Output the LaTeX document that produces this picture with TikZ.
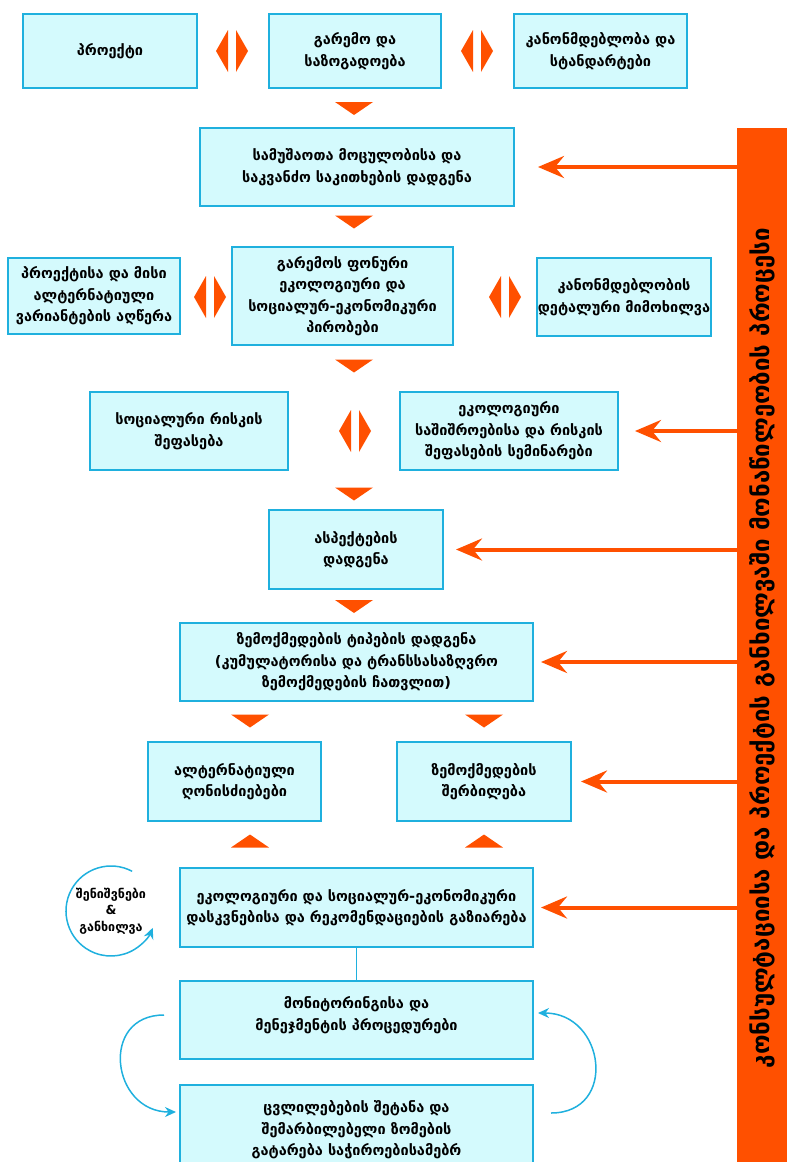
\documentclass[tikz,border=0pt]{standalone}
\usepackage{fontspec}
\setmainfont{DejaVu Sans}
\usetikzlibrary{arrows.meta,calc}

\definecolor{naranja}{HTML}{FF5000}
\definecolor{celeste}{HTML}{D4FAFD}
\definecolor{borde}{HTML}{1FB0DE}

\tikzset{
  caja/.style={draw=borde, fill=celeste, line width=2pt, align=center,
    inner sep=0pt, font=\fontsize{14.5}{21.5}\selectfont\bfseries},
  flecha/.style={draw=naranja, line width=4pt,
    -{Stealth[length=26pt,width=22pt,inset=9pt]}},
  bucle/.style={draw=borde, line width=1.5pt,
    -{Stealth[length=11pt,width=10pt]}},
  tribajo/.pic={\fill[naranja] (-19,-6.5) -- (19,-6.5) -- (0,6.5) -- cycle;},
  triarriba/.pic={\fill[naranja] (-19,6.5) -- (19,6.5) -- (0,-6.5) -- cycle;},
  rombo/.pic={\fill[naranja] (-4,-21) -- (-4,21) -- (-16,0) -- cycle;
    \fill[naranja] (4,-21) -- (4,21) -- (16,0) -- cycle;}
}

\begin{document}
\begin{tikzpicture}[x=1pt,y=-1pt]

% Marco
\clip (0,0) rectangle (787,1162);

% Primera fila
\node[caja, minimum width=174pt, minimum height=74pt] (proyecto) at (110,51) {პროექტი};
\node[caja, minimum width=172pt, minimum height=74pt] (entorno) at (355,51) {გარემო და\\საზოგადოება};
\node[caja, minimum width=173pt, minimum height=74pt] (normas) at (600.5,51) {კანონმდებლობა და\\სტანდარტები};
\pic at (232,51) {rombo};
\pic at (477,51) {rombo};
\pic at (354,108.5) {tribajo};

% Alcance
\node[caja, minimum width=314pt, minimum height=78pt] (alcance) at (357,167) {სამუშაოთა მოცულობისა და\\საკვანძო საკითხების დადგენა};
\pic at (354,222) {tribajo};

% Tercera fila
\node[caja, minimum width=172pt, minimum height=76pt] (descripcion) at (94,296) {პროექტისა და მისი\\ალტერნატიული\\ვარიანტების აღწერა};
\node[caja, minimum width=221pt, minimum height=98pt] (fondo) at (342.5,296) {გარემოს ფონური\\ეკოლოგიური და\\სოციალურ-ეკონომიკური\\პირობები};
\node[caja, minimum width=174pt, minimum height=78pt] (legislacion) at (624,297) {კანონმდებლობის\\დეტალური მიმოხილვა};
\pic at (210,297) {rombo};
\pic at (505,297) {rombo};
\pic at (354,366) {tribajo};

% Riesgos
\node[caja, minimum width=198pt, minimum height=78pt] (social) at (189,431) {სოციალური რისკის\\შეფასება};
\node[caja, minimum width=218pt, minimum height=78pt] (seminarios) at (509,431) {ეკოლოგიური\\საშიშროებისა და რისკის\\შეფასების სემინარები};
\pic at (355,431) {rombo};
\pic at (354,494) {tribajo};

% Aspectos e impactos
\node[caja, minimum width=174pt, minimum height=79pt] (aspectos) at (356,549.5) {ასპექტების\\დადგენა};
\pic at (354,606.5) {tribajo};
\node[caja, minimum width=353pt, minimum height=78pt] (impactos) at (356.5,662) {ზემოქმედების ტიპების დადგენა\\(კუმულატორისა და ტრანსსასაზღვრო\\ზემოქმედების ჩათვლით)};
\pic at (250,721) {tribajo};
\pic at (484,721) {tribajo};

\node[caja, minimum width=173pt, minimum height=79pt] (alternativas) at (234.5,781.5) {ალტერნატიული\\ღონისძიებები};
\node[caja, minimum width=174pt, minimum height=79pt] (mitigacion) at (484,781.5) {ზემოქმედების\\შერბილება};
\pic at (250,841) {triarriba};
\pic at (484,841) {triarriba};

% Conclusiones
\node[caja, minimum width=353pt, minimum height=79pt] (conclusiones) at (356.5,907.5) {ეკოლოგიური და სოციალურ-ეკონომიკური\\დასკვნებისა და რეკომენდაციების გაზიარება};
\node[align=center, font=\fontsize{12.5}{16.5}\selectfont\bfseries] (notas) at (111,911) {შენიშვნები\\\&\\განხილვა};
\draw[bucle] (notas.center) ++(-62:45) arc[start angle=-62, end angle=-338, radius=45];

% Monitoreo
\node[caja, minimum width=353pt, minimum height=78pt] (monitoreo) at (356.5,1020) {მონიტორინგისა და\\მენეჯმენტის პროცედურები\\[-8pt]\mbox{}};
\node[caja, minimum width=353pt, minimum height=90pt] (cambios) at (356.5,1130) {ცვლილებების შეტანა და\\შემარბილებელი ზომების\\გატარება საჭიროებისამებრ};
\draw[draw=borde, line width=1.5pt] (conclusiones.south) -- (monitoreo.north);
\draw[bucle] ([xshift=-15pt,yshift=5pt]monitoreo.west) to[out=180,in=180,looseness=1.7] ([xshift=-3pt,yshift=18pt]cambios.west);
\draw[bucle] ([xshift=17pt,yshift=17pt]cambios.east) to[out=0,in=0,looseness=1.7] ([xshift=4pt,yshift=7pt]monitoreo.east);

% Barra lateral
\node[fill=naranja, rotate=90, minimum width=1040pt, minimum height=50pt, inner sep=0pt,
  font=\fontsize{24}{26}\selectfont\bfseries] (barra) at (762,648) {კონსულტაციისა და პროექტის განხილვაში მონაწილეობის პროცესი};

% Flechas
\draw[flecha, shorten >=23pt] (barra.north |- alcance.east) -- (alcance.east);
\draw[flecha, shorten >=16pt] (barra.north |- seminarios.east) -- (seminarios.east);
\draw[flecha, shorten >=12pt] (barra.north |- aspectos.east) -- (aspectos.east);
\draw[flecha, shorten >=7pt] (barra.north |- impactos.east) -- (impactos.east);
\draw[flecha, shorten >=9pt] (barra.north |- mitigacion.east) -- (mitigacion.east);
\draw[flecha, shorten >=7pt] (barra.north |- conclusiones.east) -- (conclusiones.east);

\end{tikzpicture}
\end{document}
